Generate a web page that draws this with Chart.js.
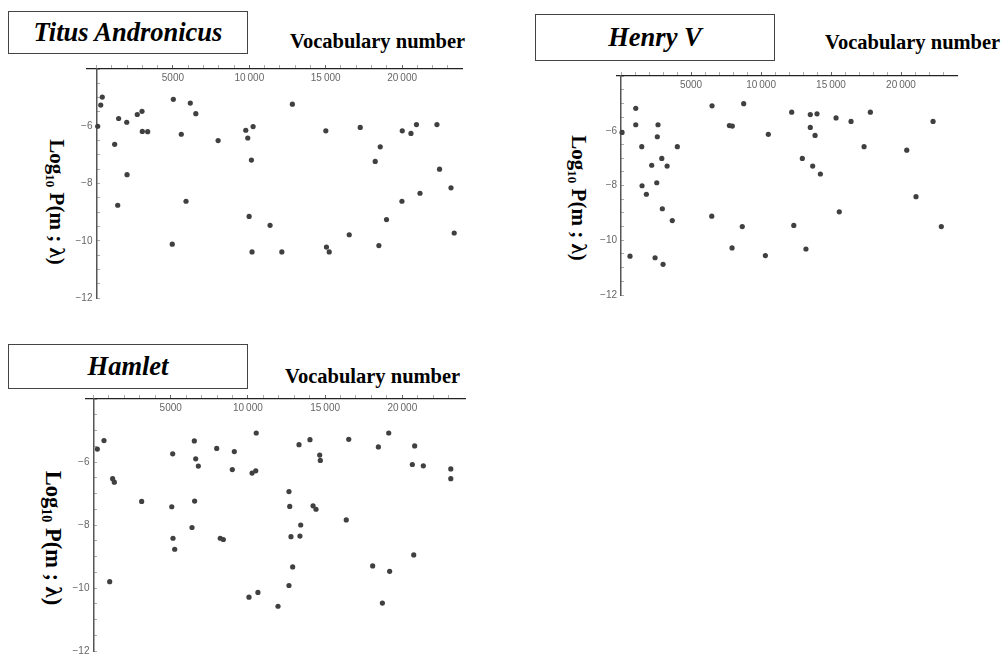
<!DOCTYPE html>
<html>
<head>
<meta charset="utf-8">
<script src="https://cdn.jsdelivr.net/npm/chart.js@4.4.1/dist/chart.umd.min.js"></script>
<style>
  body { margin: 0; width: 1004px; height: 661px; overflow: hidden; background: #fff; position: relative; }
  canvas { position: absolute; }
  .box { position: absolute; border: 1px solid #444; box-sizing: border-box; text-align: center;
         font: italic bold 26.5px "Liberation Serif", serif; white-space: nowrap; }
  .vocab { position: absolute; font: bold 20.5px "Liberation Serif", serif; line-height: 1; white-space: nowrap; }
  .ylab { position: absolute; font: bold 21px "Liberation Serif", serif; line-height: 1; white-space: nowrap;
          transform: translate(-50%, -50%) rotate(90deg); }
  .ylab sub { font-size: 0.62em; vertical-align: -0.3em; line-height: 0; }
</style>
</head>
<body>

<div class="box" style="left:8px;top:11px;width:240px;height:43px;line-height:41px;">Titus Andronicus</div>
<div class="vocab" style="left:290px;top:31px;">Vocabulary number</div>
<div class="ylab" style="left:56px;top:202px;">Log<sub>10</sub> P(m ; λ)</div>
<canvas id="titus" width="405" height="251" style="left:63px;top:56px;"></canvas>

<div class="box" style="left:535px;top:14px;width:240px;height:47px;line-height:45px;">Henry V</div>
<div class="vocab" style="left:825px;top:32px;">Vocabulary number</div>
<div class="ylab" style="left:578px;top:198px;">Log<sub>10</sub> P(m ; λ)</div>
<canvas id="henry" width="370" height="241" style="left:593px;top:63px;"></canvas>

<div class="box" style="left:8px;top:344px;width:240px;height:45px;line-height:43px;">Hamlet</div>
<div class="vocab" style="left:285px;top:366px;">Vocabulary number</div>
<div class="ylab" style="left:53px;top:538px;font-size:22.5px;">Log<sub>10</sub> P(m ; λ)</div>
<canvas id="hamlet" width="409" height="274" style="left:62px;top:386px;"></canvas>

<script>
// Titus Andronicus
var titusX = [380, 280, 80, 1450, 1980, 1190, 2670, 2980, 3000, 3350,
    5030, 5550, 6140, 6500, 7960, 9770, 10250, 9900, 12820, 15010,
    17260, 18570, 20010, 20580, 20940, 22280, 10140, 2000, 1390, 5860,
    18240, 22450, 23200, 21170, 19990, 18980, 9990, 11360, 16540, 23410,
    4960, 10180, 12130, 15050, 15230, 18480];
var titusY = [-4.98, -5.26, -6.0, -5.73, -5.86, -6.63, -5.59, -5.48, -6.18, -6.19,
    -5.06, -6.28, -5.19, -5.56, -6.50, -6.14, -6.01, -6.41, -5.23, -6.16,
    -6.04, -6.72, -6.16, -6.25, -5.94, -5.94, -7.18, -7.69, -8.76, -8.62,
    -7.23, -7.50, -8.15, -8.34, -8.62, -9.26, -9.15, -9.46, -9.79, -9.73,
    -10.12, -10.39, -10.39, -10.22, -10.39, -10.17];

// Henry V
var henryX = [1050, 1050, 70, 2640, 2590, 1480, 4020, 2910, 6500, 7740,
    7950, 8760, 10520, 12190, 13520, 14000, 13520, 13860, 15360, 16430,
    17810, 17360, 20410, 22290, 12950, 2190, 3290, 1500, 1810, 2550,
    2950, 3660, 6480, 8660, 7930, 10310, 640, 2430, 3000, 13690,
    14240, 12340, 13210, 15590, 21070, 22880];
var henryY = [-5.18, -5.78, -6.06, -5.78, -6.22, -6.58, -6.58, -7.01, -5.09, -5.81,
    -5.83, -5.01, -6.13, -5.32, -5.41, -5.38, -5.88, -6.17, -5.53, -5.66,
    -5.32, -6.58, -6.71, -5.66, -7.01, -7.26, -7.29, -8.01, -8.32, -7.90,
    -8.85, -9.28, -9.12, -9.50, -10.28, -10.56, -10.58, -10.64, -10.88, -7.29,
    -7.58, -9.46, -10.32, -8.96, -8.41, -9.50];

// Hamlet
var hamletX = [250, 680, 1240, 1350, 5130, 6530, 6620, 6790, 7980, 9120,
    8990, 10270, 10510, 10540, 12660, 13310, 14020, 14650, 14690, 16530,
    18450, 19120, 20800, 20650, 21360, 23140, 23140, 3120, 5070, 6550,
    12710, 14220, 14410, 6380, 5150, 5260, 8210, 8410, 13420, 12790,
    13370, 16370, 12900, 18080, 19180, 20740, 1050, 12660, 10070, 10650,
    11950, 18710];
var hamletY = [-5.59, -5.32, -6.53, -6.64, -5.74, -5.33, -5.90, -6.13, -5.57, -5.67,
    -6.24, -6.35, -6.28, -5.08, -6.94, -5.45, -5.29, -5.78, -5.95, -5.28,
    -5.52, -5.08, -5.49, -6.08, -6.12, -6.22, -6.53, -7.25, -7.42, -7.24,
    -7.41, -7.39, -7.50, -8.08, -8.42, -8.77, -8.42, -8.46, -8.00, -8.37,
    -8.35, -7.84, -9.33, -9.30, -9.47, -8.95, -9.80, -9.92, -10.29, -10.14,
    -10.58, -10.48];

// axis ticks
var xTickLabels = [5000, 10000, 15000, 20000];
var xMinorStep = 1000, xTickEnd = 23000;
var yTickLabels = [-6, -8, -10, -12];
var yStep = 0.5, yMin = -12, yMax = -4;

var tickFont = { family: 'Liberation Sans', size: 10 };

function xLabel(v) {
    if (xTickLabels.indexOf(v) < 0) return '';
    var s = String(v);
    if (v >= 10000) s = s.slice(0, s.length - 3) + '\u2009' + s.slice(-3);
    return s;
}

function yLabel(v) {
    if (yTickLabels.indexOf(v) < 0) return '';
    return '\u2212' + Math.abs(v) + '\u2009\u2009';
}

// minor + major x ticks every 1000 from 0
function setXTicks(scale) {
    var t = [];
    for (var v = 0; v <= xTickEnd; v += xMinorStep) t.push({ value: v });
    scale.ticks = t;
}

// x tick labels sit just under the top axis line (Mathematica style)
var xTickLabelPlugin = {
    id: 'xTickLabelPlugin',
    afterDraw: function (chart) {
        var sx = chart.scales.x, ctx = chart.ctx;
        ctx.save();
        ctx.font = '10px "Liberation Sans"';
        ctx.fillStyle = '#666';
        ctx.textAlign = 'center';
        ctx.textBaseline = 'top';
        xTickLabels.forEach(function (v) {
            ctx.fillText(xLabel(v), sx.getPixelForValue(v), chart.chartArea.top + 4);
        });
        ctx.restore();
    }
};

function makeChart(id, xs, ys, xMin, xMax, padBottom) {
    var pts = xs.map(function (x, i) { return { x: x, y: ys[i] }; });
    return new Chart(document.getElementById(id), {
        type: 'scatter',
        data: {
            datasets: [{
                data: pts,
                backgroundColor: '#404040',
                borderWidth: 0,
                pointRadius: 2.6,
                pointHoverRadius: 2.6
            }]
        },
        plugins: [xTickLabelPlugin],
        options: {
            responsive: false,
            animation: false,
            events: [],
            layout: { autoPadding: false, padding: { left: 24, right: 6, top: 5, bottom: padBottom } },
            plugins: { legend: { display: false }, tooltip: { enabled: false } },
            scales: {
                x: {
                    type: 'linear',
                    position: 'top',
                    min: xMin,
                    max: xMax,
                    afterBuildTicks: setXTicks,
                    afterFit: function (scale) { scale.height = 8; },
                    border: { color: '#222', width: 1.3 },
                    grid: {
                        drawOnChartArea: false,
                        tickLength: 4,
                        tickColor: function (c) { return c.tick && xTickLabels.indexOf(c.tick.value) >= 0 ? '#666' : '#aaa'; }
                    },
                    ticks: { autoSkip: false, maxRotation: 0, display: false }
                },
                y: {
                    type: 'linear',
                    position: { x: 0 },
                    min: yMin,
                    max: yMax,
                    border: { color: '#555', width: 1.5 },
                    grid: {
                        drawOnChartArea: false,
                        tickLength: -4,
                        tickColor: '#aaa'
                    },
                    ticks: {
                        stepSize: yStep,
                        autoSkip: false,
                        color: '#666',
                        font: tickFont,
                        callback: yLabel
                    }
                }
            }
        }
    });
}

makeChart('titus', titusX, titusY, -620, 23920, 6);
makeChart('henry', henryX, henryY, -290, 24000, 6);
makeChart('hamlet', hamletX, hamletY, -485, 24060, 3);
</script>
</body>
</html>
